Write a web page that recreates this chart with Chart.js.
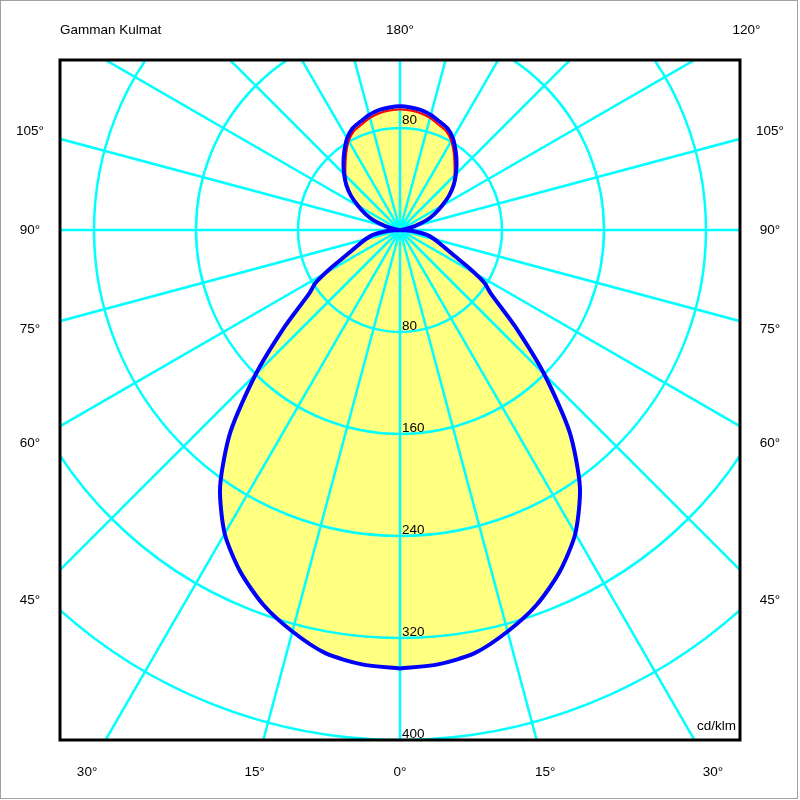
<!DOCTYPE html>
<html>
<head>
<meta charset="utf-8">
<script src="https://cdn.jsdelivr.net/npm/chart.js@4.4.1/dist/chart.umd.min.js"></script>
<style>
    html, body { margin: 0; padding: 0; background: #ffffff; }
    canvas { display: block; }
</style>
</head>
<body>
<canvas id="polar" width="800" height="800"></canvas>
<script>
// gamma angles (0 = straight down, 180 = straight up), in degrees
const gammaAngles = [0, 5, 10, 15, 20, 25, 30, 35, 40, 45, 50, 55, 58, 61, 65, 70, 75, 80, 85, 90,
    95, 100, 105, 110, 115, 120, 125, 130, 135, 140, 145, 150, 155, 160, 165, 170, 175, 180];
// intensities in cd/klm
const planeBlue = [344, 342, 337, 326, 313, 296, 275, 246, 207, 160, 118, 87, 78, 63, 46, 35, 28, 21, 11, 0,
    1, 4, 12, 22, 30, 38, 47, 55, 62, 69, 76, 83, 88, 90.5, 93.5, 95.5, 96.5, 97];
const planeRed = [344, 342, 337, 326, 313, 296, 275, 246, 207, 160, 118, 87, 78, 63, 46, 35, 28, 21, 11, 0,
    1, 4, 12, 22, 30, 38, 47, 55, 60.5, 66.5, 73.5, 80.5, 85.5, 88, 91, 93, 94, 94.5];

const ringValues = [80, 160, 240, 320, 400, 480, 560];
const ringLabelsBelow = [80, 160, 240, 320, 400];
const ringLabelsAbove = [80];
const rayAngles = [0, 15, 30, 45, 60, 75, 90, 105, 120, 135, 150, 165, 180, 195, 210, 225, 240, 255, 270, 285, 300, 315, 330, 345];
const sideAngles = [105, 90, 75, 60, 45];
const bottomAngles = [-30, -15, 0, 15, 30];
const topAngles = [180, 120];
const titleText = 'Gamman Kulmat';
const unitText = 'cd/klm';

const X_RANGE = 266.667;
const Y_MIN = -400;
const Y_MAX = 133.333;
const FONT = '13.5px "Liberation Sans", Arial, sans-serif';

function toRad(deg) {
    return deg * Math.PI / 180;
}

// right half 0..180 then mirrored left half 180..0, so the outline closes
function buildOutline(values) {
    let pts = [];
    for (let i = 0; i < gammaAngles.length; i++) {
        let g = toRad(gammaAngles[i]);
        pts.push({x: values[i] * Math.sin(g), y: -values[i] * Math.cos(g)});
    }
    for (let i = gammaAngles.length - 2; i >= 0; i--) {
        let g = toRad(gammaAngles[i]);
        pts.push({x: -values[i] * Math.sin(g), y: -values[i] * Math.cos(g)});
    }
    return pts;
}

const blueOutline = buildOutline(planeBlue);
const redOutline = buildOutline(planeRed);

const polarGrid = {
    id: 'polarGrid',
    afterDatasetDraw(chart, args) {
        if (args.index !== 2) {
            return;
        }
        const {ctx, chartArea, scales} = chart;
        const cx = scales.x.getPixelForValue(0);
        const cy = scales.y.getPixelForValue(0);
        const unit = scales.x.getPixelForValue(1) - cx;
        ctx.save();
        ctx.beginPath();
        ctx.rect(chartArea.left, chartArea.top, chartArea.right - chartArea.left, chartArea.bottom - chartArea.top);
        ctx.clip();
        ctx.strokeStyle = '#00ffff';
        ctx.lineWidth = 2.5;
        ringValues.forEach(v => {
            ctx.beginPath();
            ctx.arc(cx, cy, v * unit, 0, Math.PI * 2);
            ctx.stroke();
        });
        rayAngles.forEach(a => {
            let g = toRad(a);
            ctx.beginPath();
            ctx.moveTo(cx, cy);
            ctx.lineTo(cx + 1200 * Math.sin(g), cy + 1200 * Math.cos(g));
            ctx.stroke();
        });
        ctx.restore();
    },
    afterDraw(chart) {
        const {ctx, chartArea, scales} = chart;
        const cx = scales.x.getPixelForValue(0);
        const cy = scales.y.getPixelForValue(0);
        const unit = scales.x.getPixelForValue(1) - cx;
        ctx.save();

        // frame of the plot
        ctx.strokeStyle = '#000000';
        ctx.lineWidth = 3;
        ctx.strokeRect(chartArea.left, chartArea.top, chartArea.right - chartArea.left, chartArea.bottom - chartArea.top);

        ctx.strokeStyle = '#a0a0a0';
        ctx.lineWidth = 1;
        ctx.strokeRect(0.5, 0.5, 797, 798);

        ctx.fillStyle = '#000000';
        ctx.font = FONT;

        // ring values
        ctx.textAlign = 'left';
        ctx.textBaseline = 'alphabetic';
        ringLabelsBelow.forEach(v => {
            ctx.fillText(String(v), cx + 2, cy + v * unit - 2);
        });
        ringLabelsAbove.forEach(v => {
            ctx.fillText(String(v), cx + 2, cy - v * unit - 4);
        });

        // angle labels on the rays, outside the frame
        const leftX = chartArea.left - 30;
        const rightX = chartArea.right + 30;
        const topY = chartArea.top - 30;
        const bottomY = chartArea.bottom + 32;
        ctx.textAlign = 'center';
        ctx.textBaseline = 'middle';
        sideAngles.forEach(a => {
            let y = cy + (cx - leftX) / Math.tan(toRad(a));
            ctx.fillText(a + '°', leftX, y);
            ctx.fillText(a + '°', rightX, y);
        });
        bottomAngles.forEach(a => {
            let x = cx + (bottomY - cy) * Math.tan(toRad(a));
            ctx.fillText(Math.abs(a) + '°', x, bottomY);
        });
        topAngles.forEach(a => {
            let x = cx + (cy - topY) * Math.tan(toRad(180 - a));
            ctx.fillText(a + '°', x, topY);
        });

        ctx.textAlign = 'left';
        ctx.fillText(titleText, chartArea.left, topY);

        ctx.textAlign = 'right';
        ctx.textBaseline = 'alphabetic';
        ctx.fillText(unitText, chartArea.right - 4, chartArea.bottom - 10);

        ctx.restore();
    }
};

new Chart(document.getElementById('polar'), {
    type: 'scatter',
    data: {
        datasets: [
            {
                label: 'C90-C270',
                data: blueOutline,
                showLine: true,
                borderColor: '#0000ff',
                borderWidth: 4,
                pointRadius: 0,
                tension: 0.25,
                fill: false,
                order: 0
            },
            {
                label: 'C0-C180',
                data: redOutline,
                showLine: true,
                borderColor: '#ff0000',
                borderWidth: 2,
                pointRadius: 0,
                tension: 0.25,
                fill: false,
                order: 1
            },
            {
                label: 'area',
                data: blueOutline,
                showLine: true,
                borderColor: 'rgba(0,0,0,0)',
                borderWidth: 0,
                backgroundColor: '#ffff80',
                pointRadius: 0,
                tension: 0.25,
                fill: 'shape',
                order: 2
            }
        ]
    },
    options: {
        responsive: false,
        animation: false,
        devicePixelRatio: 1,
        layout: {padding: {left: 60, right: 60, top: 60, bottom: 60}},
        scales: {
            x: {type: 'linear', min: -X_RANGE, max: X_RANGE, display: false},
            y: {type: 'linear', min: Y_MIN, max: Y_MAX, display: false}
        },
        plugins: {
            legend: {display: false},
            tooltip: {enabled: false}
        }
    },
    plugins: [polarGrid]
});
</script>
</body>
</html>
